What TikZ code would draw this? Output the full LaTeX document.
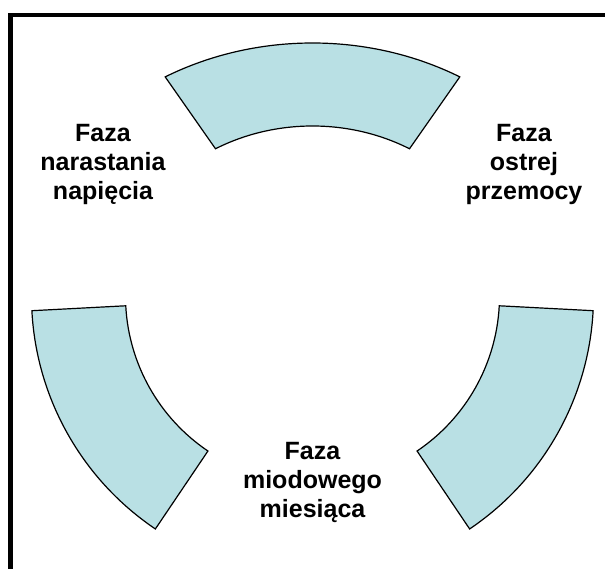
\documentclass[tikz,border=0pt]{standalone}
\usepackage{fontspec}
\setmainfont{Liberation Sans}
\usepackage{tikz}
\usetikzlibrary{calc}
\definecolor{arcfill}{RGB}{185,224,228}
\tikzset{phase/.style={draw=black,line width=1.2pt,fill=arcfill,line join=miter},
  lbl/.style={font=\bfseries\fontsize{25}{29}\selectfont,align=center,inner sep=0pt,anchor=north}}

\begin{document}
\begin{tikzpicture}[x=1pt,y=1pt]
    \useasboundingbox (0,0) rectangle (605,568);
    \draw[line width=4.3pt,line join=miter] (612,553.3) -- (10.5,553.3) -- (10.5,-8);
    \coordinate (c) at (312.5,272);

    \draw[phase] ($(c)+(120:294.6 and 253)$) arc[start angle=120,end angle=60,x radius=294.6,y radius=253]
        -- ($(c)+(60:194 and 170)$) arc[start angle=60,end angle=120,x radius=194,y radius=170] -- cycle;
    \draw[phase] ($(c)+(183:281)$) arc[start angle=183,end angle=236,radius=281]
        -- ($(c)+(236:187)$) arc[start angle=236,end angle=183,radius=187] -- cycle;
    \draw[phase] ($(c)+(304:281)$) arc[start angle=304,end angle=357,radius=281]
        -- ($(c)+(357:187)$) arc[start angle=357,end angle=304,radius=187] -- cycle;

    \node[lbl] (nar) at (103,444) {Faza\\narastania\\napięcia};
    \node[lbl] (ostr) at (524,444) {Faza\\ostrej\\przemocy};
    \node[lbl] (miod) at (312.5,126) {Faza\\miodowego\\miesiąca};
\end{tikzpicture}
\end{document}
